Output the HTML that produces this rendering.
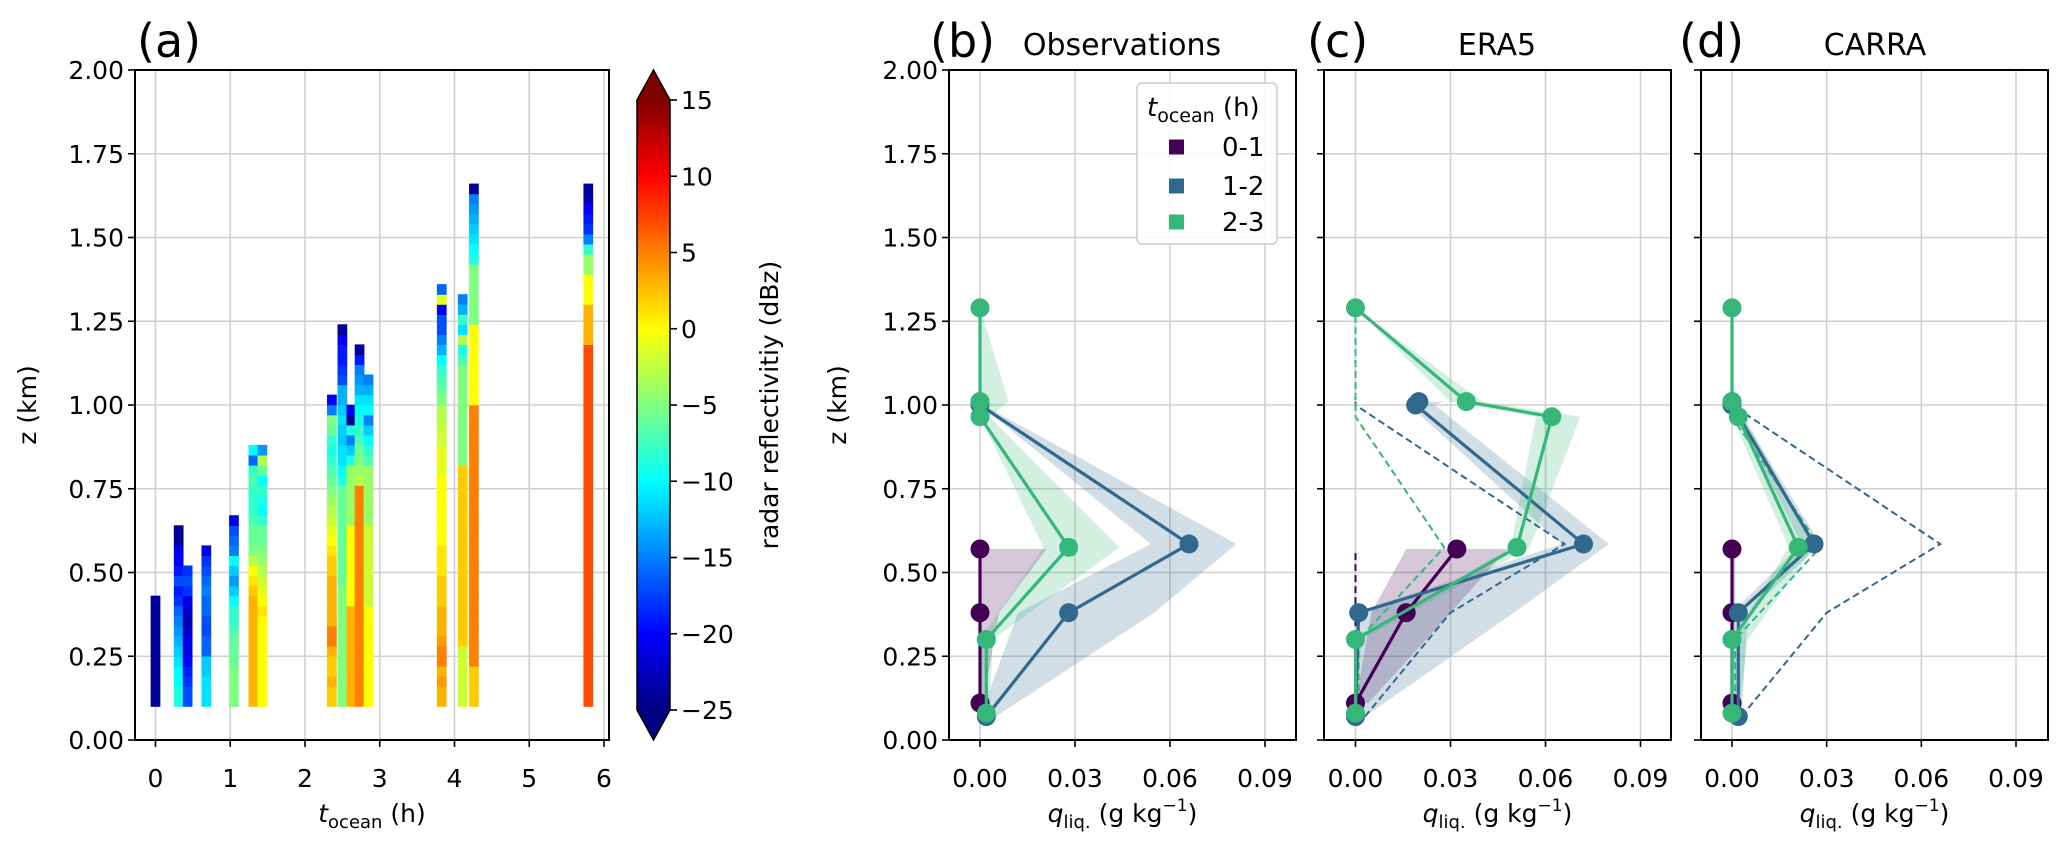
<!DOCTYPE html>
<html><head><meta charset="utf-8"><style>
html,body{margin:0;padding:0;background:#fff;}
svg{display:block;font-family:"DejaVu Sans","Liberation Sans",sans-serif;}
</style></head><body>
<svg id="fig" width="2067" height="853" viewBox="0 0 2067 853" xmlns="http://www.w3.org/2000/svg"></svg>
<script>
// ---------- Panel (a) data ----------
const colTimes = [0.0,0.31,0.43,0.68,1.05,1.31,1.43,2.36,2.50,2.62,2.73,2.85,3.83,4.11,4.26,5.79];
// run-length encoded dBz values, bottom to top: [value,count]
const colRuns = [
 [[-24,11]],
 [[-9,2],[-10,2],[-11,1],[-12,1],[-13,1],[-14,1],[-15,1],[-16,1],[-18,1],[-19,1],[-17,1],[-19,1],[-20,1],[-21,1],[-24,2]],
 [[-17,2],[-18,1],[-19,1],[-20,1],[-21,2],[-22,1],[-23,1],[-22,1],[-21,1],[-18,1],[-17,1],[-18,1]],
 [[-11,3],[-12,2],[-16,2],[-17,2],[-16,2],[-15,1],[-16,1],[-17,1],[-18,1],[-21,1]],
 [[-5,4],[-6,3],[-7,1],[-8,2],[-10,1],[-12,1],[-14,1],[-12,1],[-10,1],[-15,1],[-16,1],[-17,1],[-21,1]],
 [[3,11],[2,1],[1,1],[0,1],[-3,1],[-5,1],[-6,2],[-7,1],[-8,3],[-7,1],[-8,1],[-16,1],[-10,1]],
 [[0,9],[1,1],[0,1],[-1,1],[-2,1],[-3,1],[-4,1],[-5,1],[-6,2],[-8,1],[-10,1],[-9,1],[-8,1],[-10,1],[-6,1],[-3,1],[-14,1]],
 [[2,2],[3,1],[2,2],[3,1],[5,2],[3,5],[2,2],[1,1],[0,1],[-1,1],[-2,1],[-3,1],[-4,1],[-5,1],[-6,1],[-7,1],[-8,1],[-9,1],[-8,1],[-6,1],[-5,1],[-15,1],[-20,1]],
 [[-5,12],[-6,10],[-9,1],[-10,1],[-11,2],[-12,2],[-11,1],[-12,1],[-13,2],[-17,1],[-18,1],[-19,2],[-20,1],[-24,1]],
 [[3,10],[0,8],[-4,6],[-9,1],[-12,1],[-15,1],[-9,1],[-24,1],[-21,1]],
 [[5,22],[-3,1],[-4,1],[-5,1],[-6,1],[-7,1],[-8,1],[-9,1],[-10,1],[-11,1],[-13,1],[-14,1],[-15,1],[-19,1],[-24,1]],
 [[0,10],[-2,8],[-4,6],[-7,1],[-8,1],[-10,1],[-12,1],[-15,1],[-10,1],[-11,1],[-13,1],[-15,1]],
 [[3,2],[4,1],[3,1],[5,2],[4,1],[3,3],[2,3],[1,3],[0,7],[-1,3],[-2,2],[-3,2],[-5,1],[-6,1],[-7,1],[-8,1],[-10,1],[-13,1],[-15,1],[-17,2],[-20,1],[-1,1],[-16,1]],
 [[-2,6],[2,18],[-5,10],[-7,1],[-9,1],[-3,1],[-11,1],[-8,1],[-13,1],[-15,1]],
 [[2,4],[5,26],[0,8],[-5,6],[-9,1],[-10,1],[-11,1],[-12,1],[-13,1],[-14,1],[-15,1],[-24,1]],
 [[7,36],[3,4],[0,3],[-4,2],[-8,1],[-15,1],[-18,1],[-19,1],[-20,1],[-23,1],[-24,1]]
];
const aXTicks = [0,1,2,3,4,5,6];
const zTicks = [0,0.25,0.5,0.75,1.0,1.25,1.5,1.75,2.0];
const cbTicks = [15,10,5,0,-5,-10,-15,-20,-25];

// ---------- Panels (b)-(d) data ----------
const qTicks = [0,0.03,0.06,0.09];
const zG01 = [0.11,0.38,0.57];
const zG12 = [0.07,0.38,0.585,1.0,1.01];
const zG23 = [0.08,0.30,0.575,0.965,1.01,1.29];
// Observations
const obs01 = [0,0,0];        const obs01Lo=[0,0,0];           const obs01Hi=[0.001,0.006,0.021];
const obs12 = [0.002,0.028,0.066,0,0]; const obs12Lo=[0,0.012,0.054,0,0]; const obs12Hi=[0.005,0.055,0.081,0.001,0.001];
const obs23 = [0.002,0.002,0.028,0,0,0]; const obs23Lo=[0,0,0.02,0,0,0]; const obs23Hi=[0.003,0.004,0.044,0.003,0.009,0];
// ERA5
const era01 = [0,0.016,0.032]; const era01Lo=[0,0.005,0.016]; const era01Hi=[0.004,0.03,0.048];
const era12 = [0,0.001,0.072,0.019,0.02]; const era12Lo=[0,0,0.065,0.017,0.018]; const era12Hi=[0.003,0.05,0.080,0.025,0.028];
const era23 = [0,0,0.051,0.062,0.035,0]; const era23Lo=[0,0,0.049,0.057,0.03,0]; const era23Hi=[0,0.002,0.055,0.071,0.04,0];
// CARRA
const car01 = [0,0,0]; const car01Lo=[0,0,0]; const car01Hi=[0,0.001,0.001];
const car12 = [0.002,0.002,0.026,0,0]; const car12Lo=[0.001,0,0.022,0,0]; const car12Hi=[0.003,0.005,0.028,0.001,0.001];
const car23 = [0,0,0.021,0.002,0,0]; const car23Lo=[0,0,0.018,0,0,0]; const car23Hi=[0.002,0.005,0.026,0.004,0,0];
// Observations reference (dashed) in model panels
const ref01 = [0,0,0];
const ref12 = [0.003,0.03,0.066,0,0];
const ref23 = [0.001,0.001,0.028,0,0,0];

const NS="http://www.w3.org/2000/svg";
const svg=document.getElementById('fig');
function mk(tag,attrs,parent){const e=document.createElementNS(NS,tag);for(const k in attrs)e.setAttribute(k,attrs[k]);(parent||svg).appendChild(e);return e;}
function txt(s,attrs,parent){const e=mk('text',attrs,parent);e.textContent=s;return e;}
function jet(v){let t=(v+25)/40;t=Math.max(0,Math.min(1,t));
 const c=x=>Math.round(255*Math.max(0,Math.min(1,x)));
 return `rgb(${c(1.5-Math.abs(4*t-3))},${c(1.5-Math.abs(4*t-2))},${c(1.5-Math.abs(4*t-1))})`;}
function fmt(v){return (v<0?'\u2212':'')+Math.abs(v);}

const Z0=740, Z1=70;
const zy=z=>Z0+(Z1-Z0)*z/2;

// ===== Panel (a) =====
const A={l:135,r:609,x0:155.5,px:74.75};
const ax=t=>A.x0+t*A.px;
const ga=mk('g',{});


aXTicks.forEach(t=>{mk('line',{x1:ax(t),x2:ax(t),y1:Z1,y2:Z0,stroke:'#d0d0d0','stroke-width':1.6},ga);});
zTicks.forEach(z=>{mk('line',{x1:A.l,x2:A.r,y1:zy(z),y2:zy(z),stroke:'#d0d0d0','stroke-width':1.6},ga);});
const cellH=0.03, colW=0.13;
colTimes.forEach((t,i)=>{
 let k=0;
 colRuns[i].forEach(([v,n])=>{for(let j=0;j<n;j++){
   const zb=0.10+k*cellH, zt=zb+cellH;
   const r=mk('rect',{x:ax(t-colW/2),y:zy(zt)-0.3,width:colW*A.px,height:zy(zb)-zy(zt)+0.6,fill:jet(v)},ga);
   
   
   k++;}});
});
mk('rect',{x:A.l,y:Z1,width:A.r-A.l,height:Z0-Z1,fill:'none',stroke:'#000','stroke-width':2},ga);
aXTicks.forEach(t=>{mk('line',{x1:ax(t),x2:ax(t),y1:Z0,y2:Z0+7,stroke:'#000','stroke-width':1.6},ga);
 txt(String(t),{x:ax(t),y:787,'font-size':25,'text-anchor':'middle'},ga);});
zTicks.forEach(z=>{mk('line',{x1:A.l-7,x2:A.l,y1:zy(z),y2:zy(z),stroke:'#000','stroke-width':1.6},ga);
 txt(z.toFixed(2),{x:A.l-11,y:zy(z)+9,'font-size':25,'text-anchor':'end'},ga);});
const tA=txt('(a)',{x:137,y:57,'font-size':46},ga);

const xlA=mk('text',{x:372,y:822,'font-size':25,'text-anchor':'middle'},ga);

xlA.innerHTML='<tspan font-style="italic">t</tspan><tspan font-size="18" dy="6">ocean</tspan><tspan dy="-6"> (h)</tspan>';
const ylA=txt('z (km)',{x:0,y:0,'font-size':25,'text-anchor':'middle',transform:'translate(36,405) rotate(-90)'},ga);


// colorbar
const CB={x:637,w:33,top:100,bot:710};
const cby=v=>CB.bot+(CB.top-CB.bot)*(v+25)/40;
const gcb=mk('g',{});


const defs=mk('defs',{});
const lg=mk('linearGradient',{id:'jetg',x1:0,y1:1,x2:0,y2:0},defs);
for(let i=0;i<=40;i++){mk('stop',{offset:i/40,'stop-color':jet(-25+i)},lg);}
mk('rect',{x:CB.x,y:CB.top,width:CB.w,height:CB.bot-CB.top,fill:'url(#jetg)'},gcb);
mk('polygon',{points:`${CB.x},${CB.top} ${CB.x+CB.w},${CB.top} ${CB.x+CB.w/2},70`,fill:jet(100)},gcb);
mk('polygon',{points:`${CB.x},${CB.bot} ${CB.x+CB.w},${CB.bot} ${CB.x+CB.w/2},740`,fill:jet(-100)},gcb);
mk('polygon',{points:`${CB.x+CB.w/2},70 ${CB.x+CB.w},${CB.top} ${CB.x+CB.w},${CB.bot} ${CB.x+CB.w/2},740 ${CB.x},${CB.bot} ${CB.x},${CB.top}`,fill:'none',stroke:'#000','stroke-width':1.5},gcb);
cbTicks.forEach(v=>{mk('line',{x1:CB.x+CB.w,x2:CB.x+CB.w+7,y1:cby(v),y2:cby(v),stroke:'#000','stroke-width':1.6},gcb);
 txt(fmt(v),{x:CB.x+CB.w+11,y:cby(v)+9,'font-size':25},gcb);});
txt('radar reflectivitiy (dBz)',{x:0,y:0,'font-size':25,'text-anchor':'middle',transform:'translate(778,405) rotate(-90)'},gcb);

// ===== Profile panels =====
const COL={g01:'#440154',g12:'#31688e',g23:'#35b779'};
const panels=[
 {name:'panel-b',l:949,x0:980,x9:1265,label:'(b)',lx:930,title:'Observations',tx:1122,ylab:true,
  s:[[zG01,obs01,obs01Lo,obs01Hi,'g01'],[zG12,obs12,obs12Lo,obs12Hi,'g12'],[zG23,obs23,obs23Lo,obs23Hi,'g23']],ref:null},
 {name:'panel-c',l:1324,x0:1355.5,x9:1640.5,label:'(c)',lx:1307,title:'ERA5',tx:1497,ylab:false,
  s:[[zG01,era01,era01Lo,era01Hi,'g01'],[zG12,era12,era12Lo,era12Hi,'g12'],[zG23,era23,era23Lo,era23Hi,'g23']],ref:true},
 {name:'panel-d',l:1701,x0:1732,x9:2016,label:'(d)',lx:1679,title:'CARRA',tx:1875,ylab:false,
  s:[[zG01,car01,car01Lo,car01Hi,'g01'],[zG12,car12,car12Lo,car12Hi,'g12'],[zG23,car23,car23Lo,car23Hi,'g23']],ref:true}
];
const refs={g01:[zG01,ref01],g12:[zG12,ref12],g23:[zG23,ref23]};
panels.forEach(P=>{
 const W=347, r=P.l+W;
 const qx=q=>P.x0+(P.x9-P.x0)*q/0.09;
 const g=mk('g',{});
 
 
 qTicks.forEach(q=>mk('line',{x1:qx(q),x2:qx(q),y1:Z1,y2:Z0,stroke:'#d0d0d0','stroke-width':1.6},g));
 zTicks.forEach(z=>mk('line',{x1:P.l,x2:r,y1:zy(z),y2:zy(z),stroke:'#d0d0d0','stroke-width':1.6},g));
 P.s.forEach(([zs,xs,lo,hi,c])=>{
  const pts=zs.map((z,i)=>`${qx(lo[i])},${zy(z)}`).concat(zs.slice().reverse().map((z,i)=>`${qx(hi[zs.length-1-i])},${zy(z)}`));
  const p=mk('polygon',{points:pts.join(' '),fill:COL[c],'fill-opacity':0.22},g);
  
  
 });
 if(P.ref){['g01','g12','g23'].forEach(c=>{
  const [zs,xs]=refs[c];
  const pl=mk('polyline',{points:zs.map((z,i)=>`${qx(xs[i])},${zy(z)}`).join(' '),fill:'none',stroke:COL[c],'stroke-width':2,'stroke-dasharray':'7,4'},g);
  
  
 });}
 P.s.forEach(([zs,xs,lo,hi,c])=>{
  const pl=mk('polyline',{points:zs.map((z,i)=>`${qx(xs[i])},${zy(z)}`).join(' '),fill:'none',stroke:COL[c],'stroke-width':3.2},g);
  
  
  zs.forEach((z,i)=>{const m=mk('circle',{cx:qx(xs[i]),cy:zy(z),r:9.5,fill:COL[c]},g);
   
   });
 });
 mk('rect',{x:P.l,y:Z1,width:W,height:Z0-Z1,fill:'none',stroke:'#000','stroke-width':2},g);
 qTicks.forEach(q=>{mk('line',{x1:qx(q),x2:qx(q),y1:Z0,y2:Z0+7,stroke:'#000','stroke-width':1.6},g);
  txt(q.toFixed(2),{x:qx(q),y:787,'font-size':25,'text-anchor':'middle'},g);});
 zTicks.forEach(z=>{mk('line',{x1:P.l-7,x2:P.l,y1:zy(z),y2:zy(z),stroke:'#000','stroke-width':1.6},g);
  if(P.ylab) txt(z.toFixed(2),{x:P.l-11,y:zy(z)+9,'font-size':25,'text-anchor':'end'},g);});
 txt(P.label,{x:P.lx,y:57,'font-size':46},g);
 txt(P.title,{x:P.tx,y:55,'font-size':30,'text-anchor':'middle'},g);
 const xl=mk('text',{x:(P.l+r)/2,y:822,'font-size':25,'text-anchor':'middle'},g);
 xl.innerHTML='<tspan font-style="italic">q</tspan><tspan font-size="18" dy="6">liq.</tspan><tspan dy="-6"> (g kg</tspan><tspan font-size="17" dy="-11">\u22121</tspan><tspan dy="11">)</tspan>';
 if(P.ylab) txt('z (km)',{x:0,y:0,'font-size':25,'text-anchor':'middle',transform:'translate(846,405) rotate(-90)'},g);
});

// legend
const gl=mk('g',{});


mk('rect',{x:1137,y:83,width:140,height:161,rx:5,fill:'#fff','fill-opacity':0.85,stroke:'#cccccc','stroke-width':1.5},gl);
const lt=mk('text',{x:1147,y:116,'font-size':26},gl);
lt.innerHTML='<tspan font-style="italic">t</tspan><tspan font-size="19" dy="6">ocean</tspan><tspan dy="-6"> (h)</tspan>';
const legLabels=['0-1','1-2','2-3'];
const legKeys=['g01','g12','g23'];
const legY=[147,186,222];
legLabels.forEach((s,i)=>{
 const sq=mk('rect',{x:1169,y:legY[i]-7.5,width:15,height:15,fill:COL[legKeys[i]]},gl);
 
 
 txt(s,{x:1222,y:legY[i]+9,'font-size':26},gl);
});
</script>
</body></html>
